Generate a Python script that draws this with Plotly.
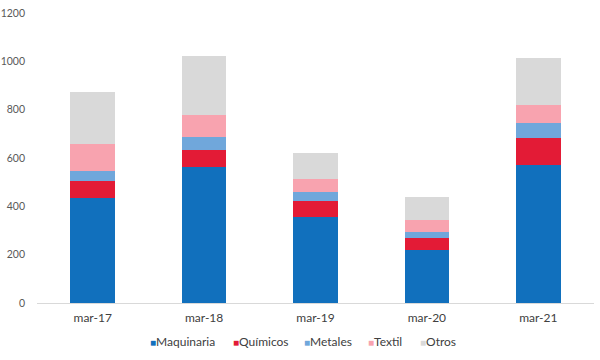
import plotly.graph_objects as go

categories = ["mar-17", "mar-18", "mar-19", "mar-20", "mar-21"]
maquinaria = [433, 564, 357, 218, 571]
quimicos = [72, 69, 65, 50, 113]
metales = [41, 53, 37, 26, 60]
textil = [112, 92, 53, 49, 76]
otros = [215, 245, 110, 94, 194]

series_names = ["Maquinaria", "Químicos", "Metales", "Textil", "Otros"]
series_values = [maquinaria, quimicos, metales, textil, otros]
series_colors = ["#1170BD", "#E31B36", "#70A7DB", "#F8A3AF", "#D9D9D9"]

W, H = 600, 360
# desired plot-area bounds in window pixels
PL, PR, PT, PB = 37, 594, 13, 303
ML, MT = PL, PT
MR = W - PR
MB = H - PB
PW = PR - PL
PH = PB - PT

fig = go.Figure()
for name, vals, color in zip(series_names, series_values, series_colors):
    fig.add_trace(go.Bar(name=name, x=categories, y=vals,
                         marker=dict(color=color, line=dict(width=0)), width=0.4))

font = "Lato, 'Open Sans', sans-serif"

# custom legend (small squares close to text, like the reference)
legend_px = [148, 231, 302, 366, 418]
legend_py = 341
annotations = []
for name, color, px in zip(series_names, series_colors, legend_px):
    annotations.append(dict(
        xref="paper", yref="paper", x=(px - PL) / PW, y=-(legend_py - PB) / PH,
        xanchor="left", yanchor="middle", showarrow=False,
        text=f'<span style="color:{color}; font-size:10px">■</span>{name}',
        font=dict(family=font, size=12, color="#404040"),
    ))

fig.update_layout(
    barmode="stack",
    width=W, height=H,
    margin=dict(l=ML, r=MR, t=MT, b=MB, autoexpand=False),
    plot_bgcolor="white", paper_bgcolor="white",
    font=dict(family=font, size=11, color="#595959"),
    showlegend=False,
    hovermode=False,
    annotations=annotations,
    xaxis=dict(showline=True, linecolor="#D9D9D9", linewidth=1, showgrid=False,
               ticks="", ticklabelstandoff=4, automargin=False,
               tickfont=dict(size=12, color="#404040")),
    yaxis=dict(range=[0, 1200], dtick=200, showgrid=False, zeroline=False, showline=False,
               automargin=False, ticklabelstandoff=11,
               tickfont=dict(size=10.5, color="#595959")),
)
fig.write_html("out.html", config={"displayModeBar": False},
               post_script="document.body.style.margin='0';")
